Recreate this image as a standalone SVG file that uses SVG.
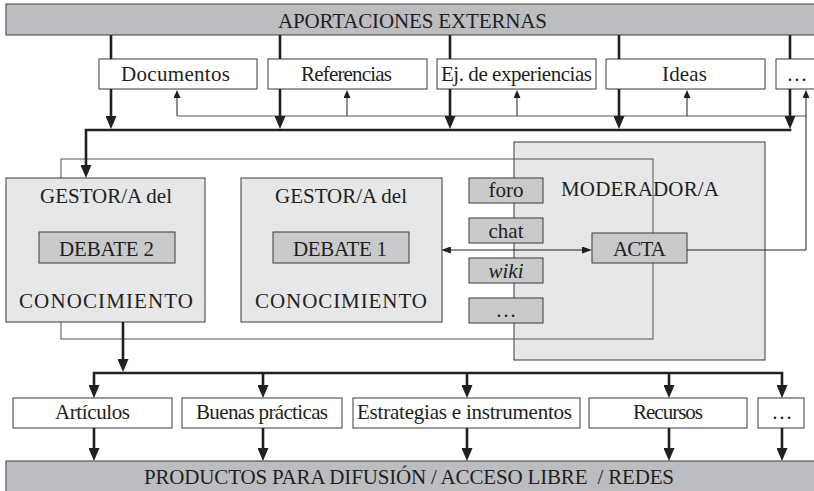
<svg xmlns="http://www.w3.org/2000/svg" width="814" height="491" viewBox="0 0 814 491">
<defs>
<style>
.bar{fill:#bcbdc0;stroke:#3a3a3a;stroke-width:1}
.box{fill:#ffffff;stroke:#3a3a3a;stroke-width:1}
.light{fill:#e6e7e8;stroke:#3a3a3a;stroke-width:1}
.mid{fill:#c9cacc;stroke:#3a3a3a;stroke-width:1}
.frame{fill:none;stroke:#555555;stroke-width:1}
.t{font-family:"Liberation Serif","Times New Roman",serif;font-size:21px;fill:#231f20;text-anchor:middle}
.thick{stroke:#231f20;stroke-width:2.6;fill:none}
.thin{stroke:#231f20;stroke-width:1;fill:none}
.gray{stroke:#555555;stroke-width:1;fill:none}
</style>
<marker id="ah" markerUnits="userSpaceOnUse" markerWidth="13" markerHeight="11" refX="7" refY="5.5" orient="auto-start-reverse">
<path d="M0,0 L13,5.5 L0,11 z" fill="#231f20"/>
</marker>
<marker id="as" markerUnits="userSpaceOnUse" markerWidth="8" markerHeight="7" refX="5" refY="3.5" orient="auto-start-reverse">
<path d="M0,0 L8,3.5 L0,7 z" fill="#231f20"/>
</marker>
<marker id="ad" markerUnits="userSpaceOnUse" markerWidth="10" markerHeight="7" refX="4" refY="3.5" orient="auto-start-reverse">
<path d="M0,0 L10,3.5 L0,7 z" fill="#231f20"/>
</marker>
</defs>
<rect width="814" height="491" fill="#ffffff"/>

<g id="aportaciones">
<rect class="bar" x="6" y="4" width="812" height="31"/>
<text class="t" x="412.5" y="28" textLength="269">APORTACIONES EXTERNAS</text>
</g>

<g id="documentos"><rect class="box" x="99" y="59" width="158" height="30"/><text class="t" x="175.5" y="81" textLength="109">Documentos</text></g>
<g id="referencias"><rect class="box" x="268" y="59" width="159" height="30"/><text class="t" x="346.5" y="81" textLength="91">Referencias</text></g>
<g id="experiencias"><rect class="box" x="437" y="59" width="159" height="30"/><text class="t" x="516.5" y="81" textLength="151">Ej. de experiencias</text></g>
<g id="ideas"><rect class="box" x="606" y="59" width="159" height="30"/><text class="t" x="684.5" y="81" textLength="45">Ideas</text></g>
<g id="otros-top"><rect class="box" x="776" y="59" width="42" height="30"/><text class="t" x="797" y="81">…</text></g>

<g id="moderador">
<rect class="light" x="514" y="142" width="251" height="218"/>
<text class="t" x="640" y="196" textLength="158">MODERADOR/A</text>
</g>

<g id="marco">
<rect class="frame" x="61" y="159" width="592" height="180"/>
</g>

<g id="gestor2">
<rect class="light" x="6" y="178" width="199" height="144"/>
<text class="t" x="106" y="203" textLength="132">GESTOR/A del</text>
<rect class="mid" x="39" y="232" width="136" height="31"/>
<text class="t" x="106.5" y="256" textLength="95">DEBATE 2</text>
<text class="t" x="106" y="308" textLength="174">CONOCIMIENTO</text>
</g>

<g id="gestor1">
<rect class="light" x="241" y="178" width="201" height="144"/>
<text class="t" x="341" y="203" textLength="132">GESTOR/A del</text>
<rect class="mid" x="273" y="232" width="136" height="31"/>
<text class="t" x="340" y="256" textLength="94">DEBATE 1</text>
<text class="t" x="341" y="308" textLength="172">CONOCIMIENTO</text>
</g>

<g id="foro"><rect class="mid" x="469" y="178" width="74" height="25"/><text class="t" x="506" y="197">foro</text></g>
<g id="chat"><rect class="mid" x="469" y="218" width="74" height="25"/><text class="t" x="506" y="238">chat</text></g>
<g id="wiki"><rect class="mid" x="469" y="258" width="74" height="25"/><text class="t" x="506" y="278" font-style="italic">wiki</text></g>
<g id="otros-med"><rect class="mid" x="469" y="298" width="74" height="25"/><text class="t" x="506" y="317">…</text></g>

<g id="acta"><rect class="mid" x="592" y="233" width="95" height="30"/><text class="t" x="639.5" y="256" textLength="53">ACTA</text></g>

<g id="articulos"><rect class="box" x="13" y="398" width="159" height="30"/><text class="t" x="92.5" y="419" textLength="75">Artículos</text></g>
<g id="buenas"><rect class="box" x="182" y="398" width="160" height="30"/><text class="t" x="262" y="419" textLength="132">Buenas prácticas</text></g>
<g id="estrategias"><rect class="box" x="353" y="398" width="227" height="30"/><text class="t" x="464.5" y="419" textLength="215">Estrategias e instrumentos</text></g>
<g id="recursos"><rect class="box" x="589" y="398" width="158" height="30"/><text class="t" x="668" y="419" textLength="70">Recursos</text></g>
<g id="otros-bottom"><rect class="box" x="758" y="398" width="46" height="30"/><text class="t" x="782" y="419">…</text></g>

<g id="productos">
<rect class="bar" x="6" y="461" width="812" height="34"/>
<text class="t" x="409" y="484" textLength="530" xml:space="preserve">PRODUCTOS PARA DIFUSIÓN / ACCESO LIBRE  / REDES</text>
</g>

<g id="connectors">
<path class="gray" d="M177,116 H806"/>
<path class="thin" d="M177,116 V93" marker-end="url(#as)"/>
<path class="thin" d="M347,116 V93" marker-end="url(#as)"/>
<path class="thin" d="M517,116 V93" marker-end="url(#as)"/>
<path class="thin" d="M687,116 V93" marker-end="url(#as)"/>
<path class="thin" d="M687,250 H806 V93" marker-end="url(#as)"/>
<path class="thin" d="M447,250 H586" marker-start="url(#ad)" marker-end="url(#ad)"/>

<path class="thick" d="M111,35 V59 M280,35 V59 M450,35 V59 M619,35 V59 M790,35 V59"/>
<path class="thick" d="M111,89 V123" marker-end="url(#ah)"/>
<path class="thick" d="M280,89 V123" marker-end="url(#ah)"/>
<path class="thick" d="M450,89 V123" marker-end="url(#ah)"/>
<path class="thick" d="M619,89 V123" marker-end="url(#ah)"/>
<path class="thick" d="M790,89 V123" marker-end="url(#ah)"/>
<path class="thick" d="M791.3,130 H86 V172" marker-end="url(#ah)"/>

<path class="thick" d="M123,322 V366" marker-end="url(#ah)"/>
<path class="thick" d="M94,392 V373 H782 V392" marker-start="url(#ah)" marker-end="url(#ah)"/>
<path class="thick" d="M263,373 V392" marker-end="url(#ah)"/>
<path class="thick" d="M467,373 V392" marker-end="url(#ah)"/>
<path class="thick" d="M669,373 V392" marker-end="url(#ah)"/>

<path class="thick" d="M94,428 V455" marker-end="url(#ah)"/>
<path class="thick" d="M263,428 V455" marker-end="url(#ah)"/>
<path class="thick" d="M467,428 V455" marker-end="url(#ah)"/>
<path class="thick" d="M669,428 V455" marker-end="url(#ah)"/>
<path class="thick" d="M782,428 V455" marker-end="url(#ah)"/>
</g>
</svg>
